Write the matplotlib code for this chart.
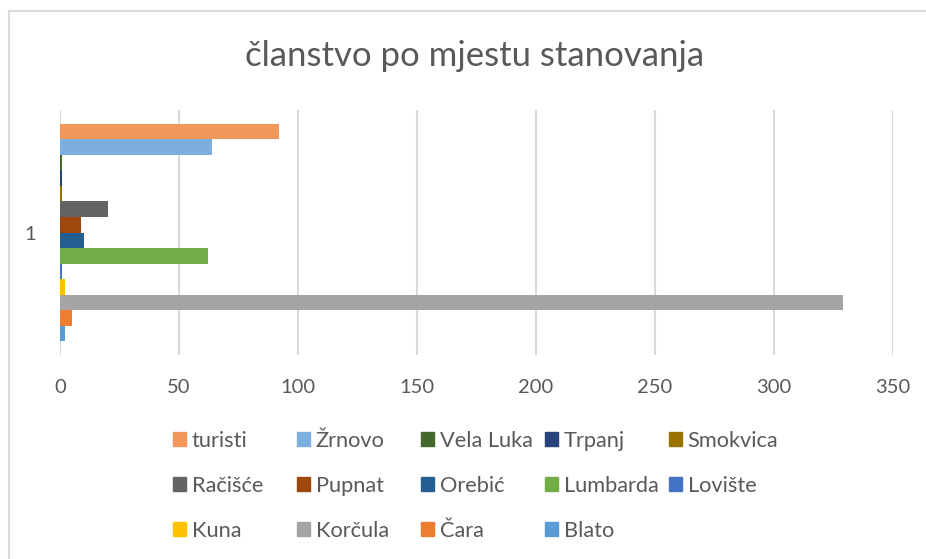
import matplotlib
matplotlib.use("Agg")
import matplotlib.pyplot as plt
from matplotlib.patches import Patch

plt.rcParams["font.family"] = ["Lato", "DejaVu Sans"]

# series listed bottom -> top (Excel order)
series = ["Blato", "Čara", "Korčula", "Kuna", "Lovište", "Lumbarda", "Orebić",
          "Pupnat", "Račišće", "Smokvica", "Trpanj", "Vela Luka", "Žrnovo", "turisti"]
values = [2, 5, 329, 2, 1, 62, 10, 9, 20, 1, 1, 1, 64, 92]
colors = ["#5B9BD5", "#ED7D31", "#A5A5A5", "#FFC000", "#4472C4", "#70AD47", "#255E91",
          "#9E480E", "#636363", "#997300", "#264478", "#43682B", "#7CAFDD", "#F1975A"]
category = "1"
xticks = [0, 50, 100, 150, 200, 250, 300, 350]

TXT = "#595959"
GRID = "#D9D9D9"

W, H = 926, 559
fig = plt.figure(figsize=(W / 100, H / 100), dpi=100)
ax = fig.add_axes([60 / W, 1 - 355 / H, (893 - 60) / W, (355 - 110) / H])

n = len(series)
for i, (name, v, c) in enumerate(zip(series, values, colors)):
    ax.barh(i - (n - 1) / 2, v, height=1.0, color=c, label=name, zorder=3)

ax.set_xlim(0, 350)
ax.set_ylim(-7.87, 7.87)
ax.set_xticks(xticks)
ax.set_yticks([0])
ax.set_yticklabels([category])
ax.xaxis.grid(True, color=GRID, linewidth=1.5, zorder=0)
ax.set_axisbelow(True)
for s in ax.spines.values():
    s.set_visible(False)
ax.tick_params(axis="x", length=0, pad=17, labelsize=14.5, labelcolor=TXT)
ax.tick_params(axis="y", length=0, pad=17, labelsize=14.5, labelcolor=TXT)

fig.text(475 / W, 1 - 56 / H, "članstvo po mjestu stanovanja",
         ha="center", va="center", fontsize=25, color=TXT)

# legend laid out like Excel: 5 equal columns, filled row by row
order = list(reversed(range(n)))
for k, idx in enumerate(order):
    r, c = divmod(k, 5)
    x = (173 + 124 * c) / W
    y = 1 - (440.7 + 45 * r) / H
    fig.legend(handles=[Patch(color=colors[idx])], labels=[series[idx]],
               loc="center left", bbox_to_anchor=(x, y), frameon=False,
               borderpad=0, borderaxespad=0, handlelength=0.6, handleheight=0.6,
               handletextpad=0.26, fontsize=15.7, labelcolor=TXT)

# chart border (only left/top edges visible in the crop)
fig.add_artist(plt.Line2D([8.5 / W, 8.5 / W], [0, 1 - 11 / H], color=GRID, lw=1.5))
fig.add_artist(plt.Line2D([8.5 / W, 1], [1 - 11 / H, 1 - 11 / H], color=GRID, lw=1.5))

fig.savefig("out.png", dpi=100, facecolor="white")
